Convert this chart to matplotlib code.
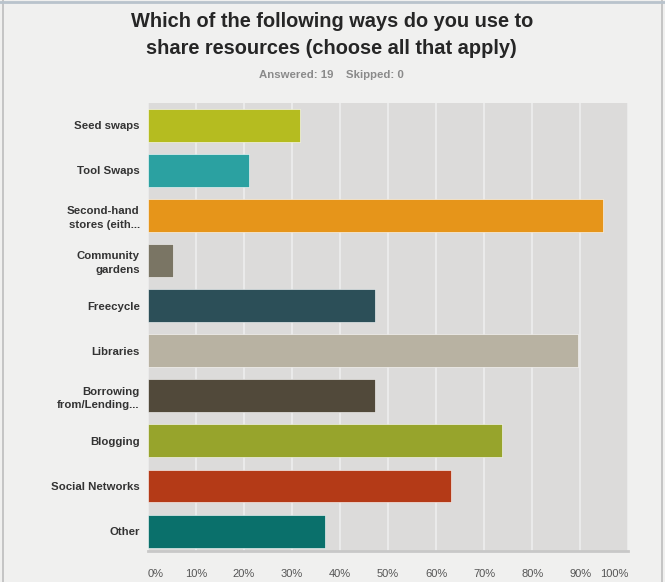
import matplotlib.pyplot as plt
from matplotlib.lines import Line2D

categorias = ['Seed swaps', 'Tool Swaps', 'Second-hand\nstores (eith...', 'Community\ngardens',
              'Freecycle', 'Libraries', 'Borrowing\nfrom/Lending...', 'Blogging',
              'Social Networks', 'Other']
percentuais = [31.58, 21.05, 94.74, 5.26, 47.37, 89.47, 47.37, 73.68, 63.16, 36.84]
cores = ['#b5bc20', '#2ba1a1', '#e6951a', '#7a7564', '#2c4f58', '#b8b2a2',
         '#51493a', '#97a42c', '#b43a17', '#0a706b']
ticks_x = [0, 10, 20, 30, 40, 50, 60, 70, 80, 90, 100]
ticks_rotulos = ['0%', '10%', '20%', '30%', '40%', '50%', '60%', '70%', '80%', '90%', '100%']

plt.rcParams['font.family'] = ['Liberation Sans', 'DejaVu Sans']

fig = plt.figure(figsize=(6.65, 5.82), dpi=100, facecolor='#f0f0ef')
ax = fig.add_axes([0.2226, 0.0533, 0.722, 0.7697])
ax.set_facecolor('#dcdbda')

pos = list(range(len(categorias)))
ax.barh(pos, percentuais, height=0.73, color=cores, edgecolor='#ffffff', linewidth=0.4,
        zorder=3)

ax.set_xlim(0, 100)
ax.set_ylim(9.44, -0.49)
ax.set_xticks(ticks_x)
ax.set_xticklabels(ticks_rotulos, fontsize=8, color='#555555')
labs = ax.get_xticklabels()
labs[0].set_ha('left')
labs[-1].set_ha('right')
ax.set_yticks(pos)
ax.set_yticklabels(categorias, fontsize=8.2, fontweight='bold', color='#333333',
                   linespacing=1.45)
ax.tick_params(axis='both', length=0)
ax.tick_params(axis='x', pad=13)
ax.tick_params(axis='y', pad=6)
ax.grid(axis='x', color='#efefef', linewidth=1.1, zorder=1)
for s in ax.spines.values():
    s.set_visible(False)
ax.spines['bottom'].set_visible(True)
ax.spines['bottom'].set_color('#c8c8c8')
ax.spines['bottom'].set_linewidth(2)

fig.text(0.499, 0.979, 'Which of the following ways do you use to\nshare resources (choose all that apply)',
         ha='center', va='top', fontsize=14.4, fontweight='bold', color='#262626',
         linespacing=1.5)
fig.text(0.499, 0.871, 'Answered: 19    Skipped: 0', ha='center', va='center',
         fontsize=8.2, fontweight='bold', color='#8a8a8a')

# moldura da captura
fig.add_artist(Line2D([0.004, 0.004], [0, 1], color='#bdbdbd', linewidth=1.2))
fig.add_artist(Line2D([0.995, 0.995], [0, 1], color='#bdbdbd', linewidth=1.2))
fig.add_artist(Line2D([0, 1], [0.996, 0.996], color='#b9c3cc', linewidth=2))

plt.savefig('out.png', dpi=100, facecolor=fig.get_facecolor())
